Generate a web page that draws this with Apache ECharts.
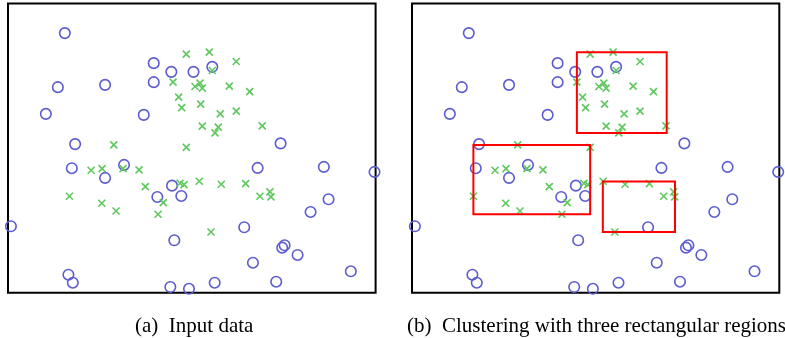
<!DOCTYPE html>
<html>
<head>
<meta charset="utf-8">
<script src="https://cdn.jsdelivr.net/npm/echarts@6/dist/echarts.min.js"></script>
<style>
html,body{margin:0;padding:0;background:#fff;}
#c{width:785px;height:338px;}
</style>
</head>
<body>
<div id="c"></div>
<script>
// Points, x in [0,368], y in [0,289] (y upward)
var circles = [
[56.9,259.4],[145.9,229.4],[163.5,220.7],[185.7,220.7],[204.5,225.7],[49.9,205.4],
[97.2,207.7],[145.9,210.4],[37.9,178.7],[135.9,177.7],[67.2,148.5],[272.9,149.2],
[116.2,127.7],[63.9,124.4],[249.9,124.7],[316.2,125.7],[366.9,120.7],[97.2,114.7],
[164.2,107],[149.5,95.7],[173.5,96.7],[320.9,93.4],[302.9,80.7],[2.9,66.4],
[236.5,65.4],[166.5,52.4],[276.9,47.4],[274.5,45],[289.9,37.7],[245.2,30],
[343.2,21.4],[60.5,18],[64.9,10],[206.9,10],[268.5,11],[162.5,5.7],[181.2,3.9]
];
var crosses = [
[178.5,238.4],[201.5,240.4],[228.5,231],[204.5,222],[165.2,210.4],[187.2,206],
[192.2,209.4],[194.5,204.4],[221.5,206.4],[241.9,201],[170.9,195.4],[173.9,185],
[192.9,188.4],[212.5,178.7],[228.5,181.4],[194.5,166.4],[210.5,165.4],[207.2,159.7],
[254.5,166.7],[105.9,147.7],[178.5,145.2],[83.2,122.4],[94.2,124],[115.2,124],
[131.2,122.7],[137.5,106],[172.2,109.4],[176.2,108],[191.5,111.4],[213.5,108.4],
[237.9,109],[262.2,100.7],[252.2,96.4],[263.2,95.7],[61.5,96.4],[93.9,89.4],
[155.5,90],[108.2,81.7],[150.2,78.4],[203.2,60.7]
];
// Rectangles [x1, y1, x2, y2]
var rects = [
[165.2,159.7,255.2,240.4],
[61.5,78.4,178.5,147.7],
[191.2,60.7,263.5,111]
];
var captions = ['(a)\u2002Input data', '(b)\u2002Clustering with three rectangular regions'];

var XMIN = 0, XMAX = 368, YMIN = 0, YMAX = 289;
var chart = echarts.init(document.getElementById('c'), null, {renderer:'canvas'});

function axisX(i){return {gridIndex:i,type:'value',min:XMIN,max:XMAX,show:false};}
function axisY(i){return {gridIndex:i,type:'value',min:YMIN,max:YMAX,show:false};}

var crossSym = 'path://M0,0L10,10M10,0L0,10';
function circleSeries(i){
  return {type:'scatter',xAxisIndex:i,yAxisIndex:i,data:circles,symbol:'circle',symbolSize:10.5,
    itemStyle:{color:'rgba(0,0,0,0)',borderColor:'#5c5cd0',borderWidth:1.6,opacity:1},
    emphasis:{disabled:true},silent:true,z:3};
}
function crossSeries(i){
  return {type:'scatter',xAxisIndex:i,yAxisIndex:i,data:crosses,symbol:crossSym,symbolSize:7,
    itemStyle:{color:'rgba(0,0,0,0)',borderColor:'#5fc85f',borderWidth:1.6,opacity:1},
    emphasis:{disabled:true},silent:true,z:4};
}

var rectSeries = {
  type:'custom',xAxisIndex:1,yAxisIndex:1,silent:true,z:5,
  data:rects,
  renderItem:function(params, api){
    var p1 = api.coord([api.value(0), api.value(3)]);
    var p2 = api.coord([api.value(2), api.value(1)]);
    return {type:'rect',shape:{x:p1[0],y:p1[1],width:p2[0]-p1[0],height:p2[1]-p1[1]},
      style:{fill:'none',stroke:'#ff0000',lineWidth:2}};
  },
  encode:{x:[0,2],y:[1,3]}
};

chart.setOption({
  animation:false,
  backgroundColor:'#fff',
  grid:[
    {left:8,top:3.5,width:367.6,height:289.2,show:true,borderColor:'#000',borderWidth:2,backgroundColor:'transparent'},
    {left:412,top:3.5,width:367.3,height:289.2,show:true,borderColor:'#000',borderWidth:2,backgroundColor:'transparent'}
  ],
  xAxis:[axisX(0),axisX(1)],
  yAxis:[axisY(0),axisY(1)],
  series:[circleSeries(0),crossSeries(0),circleSeries(1),crossSeries(1),rectSeries],
  graphic:[
    {type:'text',x:135,y:326,style:{text:captions[0],align:'left',verticalAlign:'middle',
      font:'21px "Liberation Serif", "DejaVu Serif", serif',fill:'#000'}},
    {type:'text',x:407,y:326,style:{text:captions[1],align:'left',verticalAlign:'middle',
      font:'21px "Liberation Serif", "DejaVu Serif", serif',fill:'#000'}}
  ]
});
</script>
</body>
</html>
